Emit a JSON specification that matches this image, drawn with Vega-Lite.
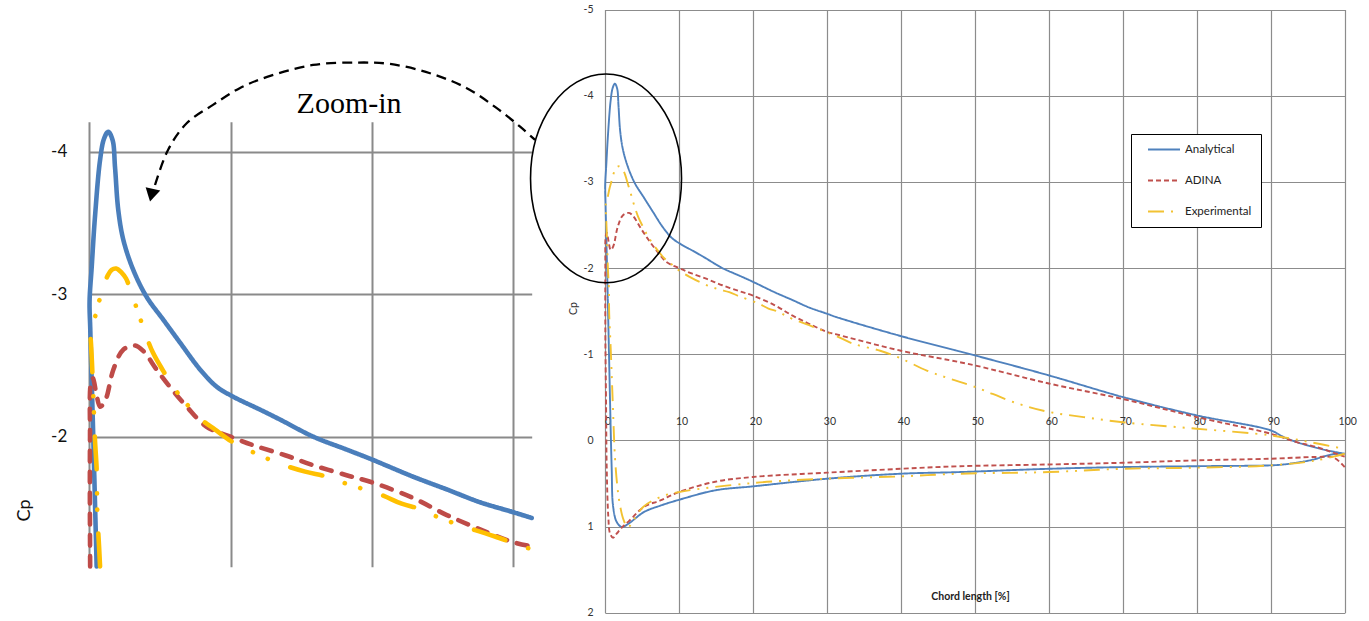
{
  "$schema": "https://vega.github.io/schema/vega-lite/v6.json",
  "width": 1369,
  "height": 621,
  "autosize": {"type": "none"},
  "padding": 0,
  "background": "white",
  "config": {
    "view": {"stroke": null},
    "axis": {"labelFont": "Lato", "titleFont": "Lato", "domain": false, "ticks": false, "tickSize": 0, "labelFlush": false, "labelOverlap": false, "labelExpr": "datum.value + ''"}
  },
  "datasets": {
    "cp": [
      {"s": "Analytical", "k": 1, "x": 100, "cp": 0.155},
      {"s": "Analytical", "k": 2, "x": 98.5, "cp": 0.16},
      {"s": "Analytical", "k": 3, "x": 95.3, "cp": 0.232},
      {"s": "Analytical", "k": 4, "x": 91.7, "cp": 0.28},
      {"s": "Analytical", "k": 5, "x": 90, "cp": 0.29},
      {"s": "Analytical", "k": 6, "x": 80, "cp": 0.3},
      {"s": "Analytical", "k": 7, "x": 70, "cp": 0.31},
      {"s": "Analytical", "k": 8, "x": 60, "cp": 0.33},
      {"s": "Analytical", "k": 9, "x": 48, "cp": 0.368},
      {"s": "Analytical", "k": 10, "x": 40, "cp": 0.387},
      {"s": "Analytical", "k": 11, "x": 30, "cp": 0.445},
      {"s": "Analytical", "k": 12, "x": 20, "cp": 0.534},
      {"s": "Analytical", "k": 13, "x": 14.9, "cp": 0.58},
      {"s": "Analytical", "k": 14, "x": 10, "cp": 0.69},
      {"s": "Analytical", "k": 15, "x": 7.4, "cp": 0.76},
      {"s": "Analytical", "k": 16, "x": 5.3, "cp": 0.83},
      {"s": "Analytical", "k": 17, "x": 3.2, "cp": 0.965},
      {"s": "Analytical", "k": 18, "x": 2.3, "cp": 1.006},
      {"s": "Analytical", "k": 19, "x": 1.6, "cp": 0.95},
      {"s": "Analytical", "k": 20, "x": 1.1, "cp": 0.77},
      {"s": "Analytical", "k": 21, "x": 0.9, "cp": 0.31},
      {"s": "Analytical", "k": 22, "x": 0.68, "cp": -0.46},
      {"s": "Analytical", "k": 23, "x": 0.52, "cp": -1.09},
      {"s": "Analytical", "k": 24, "x": 0.28, "cp": -2.0},
      {"s": "Analytical", "k": 25, "x": 0.07, "cp": -2.75},
      {"s": "Analytical", "k": 26, "x": 0.02, "cp": -2.95},
      {"s": "Analytical", "k": 27, "x": 0.17, "cp": -3.19},
      {"s": "Analytical", "k": 28, "x": 0.4, "cp": -3.54},
      {"s": "Analytical", "k": 29, "x": 0.76, "cp": -3.94},
      {"s": "Analytical", "k": 30, "x": 1.04, "cp": -4.09},
      {"s": "Analytical", "k": 31, "x": 1.34, "cp": -4.14},
      {"s": "Analytical", "k": 32, "x": 1.65, "cp": -4.08},
      {"s": "Analytical", "k": 33, "x": 1.82, "cp": -3.89},
      {"s": "Analytical", "k": 34, "x": 2.05, "cp": -3.59},
      {"s": "Analytical", "k": 35, "x": 2.41, "cp": -3.38},
      {"s": "Analytical", "k": 36, "x": 3.11, "cp": -3.17},
      {"s": "Analytical", "k": 37, "x": 4.06, "cp": -2.98},
      {"s": "Analytical", "k": 38, "x": 5.24, "cp": -2.82},
      {"s": "Analytical", "k": 39, "x": 6.42, "cp": -2.66},
      {"s": "Analytical", "k": 40, "x": 7.85, "cp": -2.47},
      {"s": "Analytical", "k": 41, "x": 9.02, "cp": -2.35},
      {"s": "Analytical", "k": 42, "x": 10.19, "cp": -2.28},
      {"s": "Analytical", "k": 43, "x": 12.08, "cp": -2.19},
      {"s": "Analytical", "k": 44, "x": 13.5, "cp": -2.12},
      {"s": "Analytical", "k": 45, "x": 15.85, "cp": -2.0},
      {"s": "Analytical", "k": 46, "x": 18.2, "cp": -1.91},
      {"s": "Analytical", "k": 47, "x": 20, "cp": -1.84},
      {"s": "Analytical", "k": 48, "x": 22.9, "cp": -1.72},
      {"s": "Analytical", "k": 49, "x": 25.3, "cp": -1.63},
      {"s": "Analytical", "k": 50, "x": 27.65, "cp": -1.54},
      {"s": "Analytical", "k": 51, "x": 30, "cp": -1.47},
      {"s": "Analytical", "k": 52, "x": 31.3, "cp": -1.43},
      {"s": "Analytical", "k": 53, "x": 40, "cp": -1.21},
      {"s": "Analytical", "k": 54, "x": 50, "cp": -0.986},
      {"s": "Analytical", "k": 55, "x": 60, "cp": -0.754},
      {"s": "Analytical", "k": 56, "x": 70, "cp": -0.503},
      {"s": "Analytical", "k": 57, "x": 80, "cp": -0.29},
      {"s": "Analytical", "k": 58, "x": 90, "cp": -0.116},
      {"s": "Analytical", "k": 59, "x": 91.7, "cp": -0.04},
      {"s": "Analytical", "k": 60, "x": 93.5, "cp": 0.02},
      {"s": "Analytical", "k": 61, "x": 95.3, "cp": 0.066},
      {"s": "Analytical", "k": 62, "x": 97.6, "cp": 0.116},
      {"s": "Analytical", "k": 63, "x": 100, "cp": 0.155},

      {"s": "ADINA", "k": 1, "x": 100, "cp": 0.31},
      {"s": "ADINA", "k": 2, "x": 98.5, "cp": 0.2},
      {"s": "ADINA", "k": 3, "x": 96.2, "cp": 0.193},
      {"s": "ADINA", "k": 4, "x": 90, "cp": 0.213},
      {"s": "ADINA", "k": 5, "x": 80, "cp": 0.232},
      {"s": "ADINA", "k": 6, "x": 70, "cp": 0.26},
      {"s": "ADINA", "k": 7, "x": 60, "cp": 0.28},
      {"s": "ADINA", "k": 8, "x": 48, "cp": 0.3},
      {"s": "ADINA", "k": 9, "x": 40, "cp": 0.33},
      {"s": "ADINA", "k": 10, "x": 30, "cp": 0.375},
      {"s": "ADINA", "k": 11, "x": 20, "cp": 0.425},
      {"s": "ADINA", "k": 12, "x": 14.9, "cp": 0.48},
      {"s": "ADINA", "k": 13, "x": 10, "cp": 0.6},
      {"s": "ADINA", "k": 14, "x": 7.4, "cp": 0.7},
      {"s": "ADINA", "k": 15, "x": 5.3, "cp": 0.77},
      {"s": "ADINA", "k": 16, "x": 3.2, "cp": 0.94},
      {"s": "ADINA", "k": 17, "x": 2.3, "cp": 1.01},
      {"s": "ADINA", "k": 18, "x": 1.6, "cp": 1.08},
      {"s": "ADINA", "k": 19, "x": 1.1, "cp": 1.13},
      {"s": "ADINA", "k": 20, "x": 0.68, "cp": 1.08},
      {"s": "ADINA", "k": 21, "x": 0.45, "cp": 0.89},
      {"s": "ADINA", "k": 22, "x": 0.23, "cp": 0.31},
      {"s": "ADINA", "k": 23, "x": 0.14, "cp": -0.46},
      {"s": "ADINA", "k": 24, "x": 0.06, "cp": -1.09},
      {"s": "ADINA", "k": 25, "x": 0.04, "cp": -1.6},
      {"s": "ADINA", "k": 26, "x": 0.05, "cp": -2.0},
      {"s": "ADINA", "k": 27, "x": 0.1, "cp": -2.37},
      {"s": "ADINA", "k": 28, "x": 0.25, "cp": -2.41},
      {"s": "ADINA", "k": 29, "x": 0.5, "cp": -2.3},
      {"s": "ADINA", "k": 30, "x": 0.76, "cp": -2.21},
      {"s": "ADINA", "k": 31, "x": 1.0, "cp": -2.23},
      {"s": "ADINA", "k": 32, "x": 1.23, "cp": -2.28},
      {"s": "ADINA", "k": 33, "x": 1.7, "cp": -2.47},
      {"s": "ADINA", "k": 34, "x": 2.4, "cp": -2.61},
      {"s": "ADINA", "k": 35, "x": 3.24, "cp": -2.64},
      {"s": "ADINA", "k": 36, "x": 3.83, "cp": -2.6},
      {"s": "ADINA", "k": 37, "x": 4.77, "cp": -2.47},
      {"s": "ADINA", "k": 38, "x": 5.7, "cp": -2.35},
      {"s": "ADINA", "k": 39, "x": 6.9, "cp": -2.21},
      {"s": "ADINA", "k": 40, "x": 8.3, "cp": -2.07},
      {"s": "ADINA", "k": 41, "x": 10, "cp": -2.0},
      {"s": "ADINA", "k": 42, "x": 11.6, "cp": -1.94},
      {"s": "ADINA", "k": 43, "x": 13.85, "cp": -1.87},
      {"s": "ADINA", "k": 44, "x": 15.85, "cp": -1.8},
      {"s": "ADINA", "k": 45, "x": 18.2, "cp": -1.73},
      {"s": "ADINA", "k": 46, "x": 20, "cp": -1.68},
      {"s": "ADINA", "k": 47, "x": 22.9, "cp": -1.57},
      {"s": "ADINA", "k": 48, "x": 25.3, "cp": -1.45},
      {"s": "ADINA", "k": 49, "x": 27.65, "cp": -1.35},
      {"s": "ADINA", "k": 50, "x": 30, "cp": -1.26},
      {"s": "ADINA", "k": 51, "x": 31.3, "cp": -1.23},
      {"s": "ADINA", "k": 52, "x": 40, "cp": -1.04},
      {"s": "ADINA", "k": 53, "x": 46.6, "cp": -0.93},
      {"s": "ADINA", "k": 54, "x": 50, "cp": -0.87},
      {"s": "ADINA", "k": 55, "x": 60, "cp": -0.66},
      {"s": "ADINA", "k": 56, "x": 70, "cp": -0.48},
      {"s": "ADINA", "k": 57, "x": 80, "cp": -0.27},
      {"s": "ADINA", "k": 58, "x": 90, "cp": -0.077},
      {"s": "ADINA", "k": 59, "x": 93.5, "cp": 0.02},
      {"s": "ADINA", "k": 60, "x": 96.2, "cp": 0.078},
      {"s": "ADINA", "k": 61, "x": 100, "cp": 0.19},

      {"s": "Experimental", "k": 1, "x": 100, "cp": 0.155},
      {"s": "Experimental", "k": 2, "x": 96.2, "cp": 0.232},
      {"s": "Experimental", "k": 3, "x": 90, "cp": 0.29},
      {"s": "Experimental", "k": 4, "x": 80, "cp": 0.317},
      {"s": "Experimental", "k": 5, "x": 70, "cp": 0.33},
      {"s": "Experimental", "k": 6, "x": 60, "cp": 0.368},
      {"s": "Experimental", "k": 7, "x": 48, "cp": 0.387},
      {"s": "Experimental", "k": 8, "x": 40, "cp": 0.418},
      {"s": "Experimental", "k": 9, "x": 30, "cp": 0.445},
      {"s": "Experimental", "k": 10, "x": 20, "cp": 0.495},
      {"s": "Experimental", "k": 11, "x": 10, "cp": 0.6},
      {"s": "Experimental", "k": 12, "x": 7.4, "cp": 0.66},
      {"s": "Experimental", "k": 13, "x": 5.2, "cp": 0.77},
      {"s": "Experimental", "k": 14, "x": 3.9, "cp": 0.92},
      {"s": "Experimental", "k": 15, "x": 3.1, "cp": 1.01},
      {"s": "Experimental", "k": 16, "x": 2.5, "cp": 0.92},
      {"s": "Experimental", "k": 17, "x": 2.0, "cp": 0.74},
      {"s": "Experimental", "k": 18, "x": 1.7, "cp": 0.56},
      {"s": "Experimental", "k": 19, "x": 1.35, "cp": 0.2},
      {"s": "Experimental", "k": 20, "x": 1.04, "cp": -0.46},
      {"s": "Experimental", "k": 21, "x": 0.76, "cp": -1.09},
      {"s": "Experimental", "k": 22, "x": 0.69, "cp": -1.23},
      {"s": "Experimental", "k": 23, "x": 0.57, "cp": -1.46},
      {"s": "Experimental", "k": 24, "x": 0.52, "cp": -1.77},
      {"s": "Experimental", "k": 25, "x": 0.4, "cp": -1.98},
      {"s": "Experimental", "k": 26, "x": 0.28, "cp": -2.3},
      {"s": "Experimental", "k": 27, "x": 0.1, "cp": -2.68},
      {"s": "Experimental", "k": 28, "x": 0.05, "cp": -2.72},
      {"s": "Experimental", "k": 29, "x": 0.24, "cp": -2.77},
      {"s": "Experimental", "k": 30, "x": 0.6, "cp": -2.92},
      {"s": "Experimental", "k": 31, "x": 0.99, "cp": -3.04},
      {"s": "Experimental", "k": 32, "x": 1.3, "cp": -3.13},
      {"s": "Experimental", "k": 33, "x": 1.58, "cp": -3.17},
      {"s": "Experimental", "k": 34, "x": 1.9, "cp": -3.18},
      {"s": "Experimental", "k": 35, "x": 2.3, "cp": -3.15},
      {"s": "Experimental", "k": 36, "x": 2.6, "cp": -3.11},
      {"s": "Experimental", "k": 37, "x": 3.11, "cp": -2.97},
      {"s": "Experimental", "k": 38, "x": 3.5, "cp": -2.86},
      {"s": "Experimental", "k": 39, "x": 3.94, "cp": -2.73},
      {"s": "Experimental", "k": 40, "x": 4.5, "cp": -2.59},
      {"s": "Experimental", "k": 41, "x": 5.24, "cp": -2.46},
      {"s": "Experimental", "k": 42, "x": 6.0, "cp": -2.34},
      {"s": "Experimental", "k": 43, "x": 7.83, "cp": -2.13},
      {"s": "Experimental", "k": 44, "x": 8.9, "cp": -2.05},
      {"s": "Experimental", "k": 45, "x": 10.1, "cp": -1.965},
      {"s": "Experimental", "k": 46, "x": 11.5, "cp": -1.895},
      {"s": "Experimental", "k": 47, "x": 13.5, "cp": -1.81},
      {"s": "Experimental", "k": 48, "x": 15.27, "cp": -1.755},
      {"s": "Experimental", "k": 49, "x": 16.8, "cp": -1.72},
      {"s": "Experimental", "k": 50, "x": 18.2, "cp": -1.67},
      {"s": "Experimental", "k": 51, "x": 20.7, "cp": -1.59},
      {"s": "Experimental", "k": 52, "x": 22.1, "cp": -1.53},
      {"s": "Experimental", "k": 53, "x": 23.5, "cp": -1.49},
      {"s": "Experimental", "k": 54, "x": 24.8, "cp": -1.43},
      {"s": "Experimental", "k": 55, "x": 27.3, "cp": -1.345},
      {"s": "Experimental", "k": 56, "x": 28.7, "cp": -1.3},
      {"s": "Experimental", "k": 57, "x": 30.1, "cp": -1.25},
      {"s": "Experimental", "k": 58, "x": 31.3, "cp": -1.21},
      {"s": "Experimental", "k": 59, "x": 33.6, "cp": -1.12},
      {"s": "Experimental", "k": 60, "x": 37.2, "cp": -1.04},
      {"s": "Experimental", "k": 61, "x": 40, "cp": -0.95},
      {"s": "Experimental", "k": 62, "x": 43.5, "cp": -0.81},
      {"s": "Experimental", "k": 63, "x": 46.6, "cp": -0.716},
      {"s": "Experimental", "k": 64, "x": 50, "cp": -0.62},
      {"s": "Experimental", "k": 65, "x": 55.7, "cp": -0.43},
      {"s": "Experimental", "k": 66, "x": 60, "cp": -0.33},
      {"s": "Experimental", "k": 67, "x": 64.7, "cp": -0.27},
      {"s": "Experimental", "k": 68, "x": 70, "cp": -0.21},
      {"s": "Experimental", "k": 69, "x": 80, "cp": -0.135},
      {"s": "Experimental", "k": 70, "x": 90, "cp": -0.058},
      {"s": "Experimental", "k": 71, "x": 95.3, "cp": 0.02},
      {"s": "Experimental", "k": 72, "x": 100, "cp": 0.1}
    ],
    "arc": [
      {"k": 1, "x": 4.65, "cp": -3.766},
      {"k": 2, "x": 5.57, "cp": -4.012},
      {"k": 3, "x": 6.89, "cp": -4.199},
      {"k": 4, "x": 8.75, "cp": -4.328},
      {"k": 5, "x": 10.67, "cp": -4.447},
      {"k": 6, "x": 12.58, "cp": -4.524},
      {"k": 7, "x": 15.83, "cp": -4.608},
      {"k": 8, "x": 18.92, "cp": -4.625},
      {"k": 9, "x": 21.28, "cp": -4.615},
      {"k": 10, "x": 24.11, "cp": -4.55},
      {"k": 11, "x": 26.71, "cp": -4.445},
      {"k": 12, "x": 28.83, "cp": -4.305},
      {"k": 13, "x": 30.48, "cp": -4.175},
      {"k": 14, "x": 31.54, "cp": -4.082}
    ],
    "head": [{"x": 4.4, "cp": -3.694}],
    "note": [{"x": 18.38, "cp": -4.335, "t": "Zoom-in"}],
    "ring": [{"x": 0.14, "cp": -3.04}]
  },
  "layer": [
    {
      "encoding": {
        "x": {
          "field": "x", "type": "quantitative",
          "scale": {"domain": [0, 31.3], "range": [89.3, 531.7], "nice": false, "zero": false},
          "axis": {"orient": "top", "values": [0, 10, 20, 30], "labels": false, "title": null, "grid": true, "gridColor": "#8a8a8a", "gridWidth": 2}
        },
        "y": {
          "field": "cp", "type": "quantitative",
          "scale": {"domain": [-4.21, -1.088], "range": [121.7, 566.7], "nice": false, "zero": false},
          "axis": {
            "orient": "left", "offset": -89.3, "values": [-4, -3, -2], "grid": true, "gridColor": "#8a8a8a", "gridWidth": 2,
            "labelFontSize": 17, "labelColor": "#111111", "labelPadding": 22.5,
            "title": "Cp", "titleFontSize": 18, "titleFontWeight": "normal", "titleColor": "#111111",
            "titleAngle": 270, "titleAlign": "center", "titleBaseline": "middle", "titleX": -65, "titleY": 510
          }
        }
      },
      "layer": [
        {
          "data": {"name": "cp"},
          "transform": [{"filter": "datum.x <= 31.35 && datum.cp <= -1.085"}],
          "mark": {"type": "line", "strokeWidth": 4.6, "strokeCap": "round", "strokeJoin": "round", "interpolate": "catmull-rom"},
          "encoding": {
            "color": {"field": "s", "type": "nominal", "scale": {"domain": ["Analytical", "ADINA", "Experimental"], "range": ["#4a7ebb", "#be4b48", "#ffc000"]}, "legend": null},
            "strokeDash": {"field": "s", "type": "nominal", "scale": {"domain": ["Analytical", "ADINA", "Experimental"], "range": [[1, 0], [10.5, 10.5], [33, 24, 0.1, 16, 0.1, 24]]}, "legend": null},
            "order": {"field": "k", "type": "quantitative"}
          }
        },
        {
          "data": {"name": "arc"},
          "mark": {"type": "line", "stroke": "black", "strokeWidth": 2.3, "strokeDash": [10, 6], "interpolate": "catmull-rom"},
          "encoding": {"order": {"field": "k", "type": "quantitative"}}
        },
        {
          "data": {"name": "head"},
          "mark": {"type": "point", "shape": "triangle-down", "filled": true, "color": "black", "opacity": 1, "size": 225, "angle": 13}
        },
        {
          "data": {"name": "note"},
          "mark": {"type": "text", "font": "Liberation Serif", "fontSize": 30, "color": "black", "align": "center", "baseline": "middle"},
          "encoding": {"text": {"field": "t"}}
        }
      ]
    },
    {
      "encoding": {
        "x": {
          "field": "x", "type": "quantitative",
          "scale": {"domain": [0, 100], "range": [605, 1344.7], "nice": false, "zero": false},
          "axis": {
            "orient": "top", "offset": -440, "values": [0, 10, 20, 30, 40, 50, 60, 70, 80, 90, 100],
            "grid": true, "gridColor": "#8c8c8c", "gridWidth": 1.2,
            "labelFontSize": 10.5, "labelColor": "#333333", "labelPadding": 14, "labelOffset": 2.5,
            "title": "Chord length [%]", "titleFontSize": 10.5, "titleFontWeight": "bold", "titleColor": "#222222",
            "titleAlign": "center", "titleBaseline": "middle", "titleX": 970, "titleY": 156
          }
        },
        "y": {
          "field": "cp", "type": "quantitative",
          "scale": {"domain": [-5, 2], "range": [9.5, 612.7], "nice": false, "zero": false},
          "axis": {
            "orient": "left", "offset": -605, "values": [-5, -4, -3, -2, -1, 0, 1, 2],
            "grid": true, "gridColor": "#8c8c8c", "gridWidth": 1.2,
            "labelFontSize": 10.5, "labelColor": "#333333", "labelPadding": 12,
            "title": "Cp", "titleFontSize": 10.5, "titleFontWeight": "normal", "titleColor": "#333333",
            "titleAngle": 270, "titleAlign": "center", "titleBaseline": "middle", "titleX": -32, "titleY": 308
          }
        }
      },
      "layer": [
        {
          "data": {"name": "cp"},
          "mark": {"type": "line", "strokeWidth": 1.9, "interpolate": "catmull-rom"},
          "encoding": {
            "color": {
              "field": "s", "type": "nominal",
              "scale": {"domain": ["Analytical", "ADINA", "Experimental"], "range": ["#4f81bd", "#c0504d", "#f2c232"]},
              "legend": {"title": null, "orient": "none", "legendX": 1131, "legendY": 134, "strokeColor": "#000000", "fillColor": "#ffffff", "padding": 9, "symbolType": "stroke", "symbolSize": 1024, "symbolStrokeWidth": 2, "symbolOffset": 7, "clipHeight": 13, "labelFont": "Lato", "labelFontSize": 11.5, "labelColor": "#222222", "labelOffset": 4, "rowPadding": 18}
            },
            "strokeDash": {
              "field": "s", "type": "nominal",
              "scale": {"domain": ["Analytical", "ADINA", "Experimental"], "range": [[1, 0], [5, 3], [16, 7, 2, 7, 2, 7]]},
              "legend": {"title": null, "orient": "none", "legendX": 1131, "legendY": 134, "strokeColor": "#000000", "fillColor": "#ffffff", "padding": 9, "symbolType": "stroke", "symbolSize": 1024, "symbolStrokeWidth": 2, "symbolOffset": 7, "clipHeight": 13, "labelFont": "Lato", "labelFontSize": 11.5, "labelColor": "#222222", "labelOffset": 4, "rowPadding": 18}
            },
            "order": {"field": "k", "type": "quantitative"}
          }
        },
        {
          "data": {"name": "ring"},
          "mark": {"type": "point", "shape": "M1,0C1,0.764,0.5523,1.383,0,1.383C-0.5523,1.383,-1,0.764,-1,0C-1,-0.764,-0.5523,-1.383,0,-1.383C0.5523,-1.383,1,-0.764,1,0Z", "size": 22801, "filled": false, "stroke": "black", "strokeWidth": 1.6, "opacity": 1}
        }
      ]
    }
  ],
  "resolve": {"scale": {"x": "independent", "y": "independent", "color": "independent", "strokeDash": "independent"}}
}
